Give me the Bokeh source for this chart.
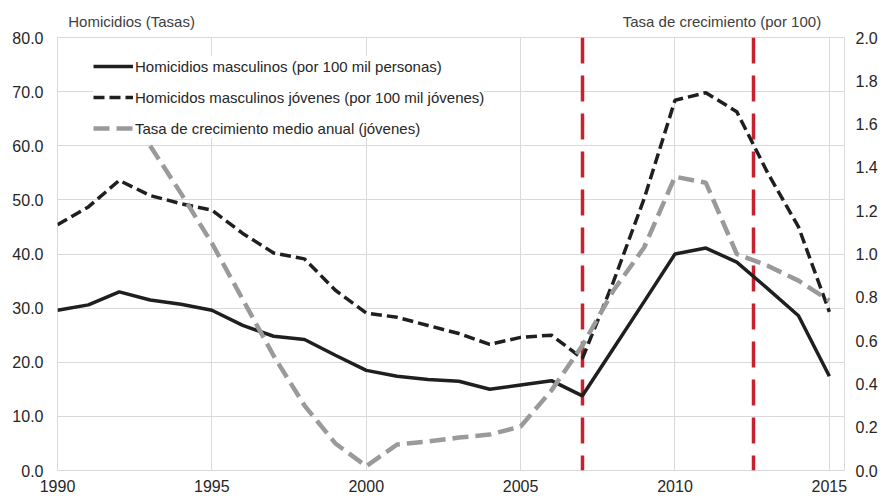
from bokeh.plotting import figure
from bokeh.models import (Range1d, LinearAxis, FixedTicker, Legend, LegendItem,
                          NumeralTickFormatter, ColumnDataSource)
from bokeh.embed import file_html
from bokeh.resources import INLINE

# ---------------- data ----------------
years = list(range(1990, 2016))
hom_masc = [29.6, 30.6, 33.0, 31.5, 30.7, 29.6, 26.8, 24.8, 24.2, 21.3,
            18.5, 17.4, 16.8, 16.5, 15.0, 15.8, 16.6, 13.8, 22.5, 31.2,
            40.0, 41.1, 38.5, 33.6, 28.6, 17.4]
hom_jov = [45.4, 48.7, 53.6, 50.8, 49.3, 48.1, 43.8, 40.2, 39.1, 33.3,
           29.1, 28.3, 26.8, 25.3, 23.3, 24.6, 25.0, 20.7, 34.8, 50.2,
           68.4, 69.8, 66.3, 55.0, 45.0, 29.3]
tasa_years = list(range(1993, 2016))
tasa_jov = [1.50, 1.28, 1.05, 0.79, 0.53, 0.30, 0.125, 0.02,
            0.12, 0.134, 0.152, 0.166, 0.203, 0.37, 0.577, 0.83, 1.03,
            1.357, 1.329, 1.00, 0.946, 0.877, 0.785]

x_ticks = [1990, 1995, 2000, 2005, 2010, 2015]
left_ticks = [0, 10, 20, 30, 40, 50, 60, 70, 80]
right_ticks = [0.0, 0.2, 0.4, 0.6, 0.8, 1.0, 1.2, 1.4, 1.6, 1.8, 2.0]
red_marks = [2007, 2012.55]

series_labels = ["Homicidios masculinos (por 100 mil personas)",
                 "Homicidos masculinos jóvenes (por 100 mil jóvenes)",
                 "Tasa de crecimiento medio anual (jóvenes)"]
left_title = "Homicidios (Tasas)"
right_title = "Tasa de crecimiento (por 100)"

# ---------------- styles / layout ----------------
FONT = "Liberation Sans"
GRID = "#d9d9d9"
BLACK = "#1f1f1f"
GRAY = "#9a9a9a"
RED = "#c8202f"
RED_DASH = "26 12"
TICK_COLOR = "#262626"
TITLE_COLOR = "#404040"
title_centers = [1992.4, 2011.52]   # horizontal centres of the two axis titles

p = figure(width=884, height=499, output_backend="svg", toolbar_location=None,
           x_range=Range1d(1990, 2015.49), y_range=Range1d(0, 80),
           min_border_left=57, min_border_right=40, min_border_top=37,
           min_border_bottom=29, background_fill_color="white",
           border_fill_color="white")
p.extra_y_ranges = {"rate": Range1d(0, 2.0)}
p.outline_line_color = GRID

xt = FixedTicker(ticks=x_ticks)
yt = FixedTicker(ticks=left_ticks)

xa = p.xaxis[0]
xa.ticker = xt
xa.axis_line_color = None
xa.major_tick_in = 0
xa.major_tick_out = 0
xa.minor_tick_line_color = None
xa.major_label_standoff = 9
xa.major_label_text_font = FONT
xa.major_label_text_font_size = "16px"
xa.major_label_text_color = TICK_COLOR

ya = p.yaxis[0]
ya.ticker = yt
ya.formatter = NumeralTickFormatter(format="0.0")
ya.axis_line_color = None
ya.major_tick_in = 0
ya.major_tick_out = 0
ya.minor_tick_line_color = None
ya.major_label_standoff = 14
ya.major_label_text_font = FONT
ya.major_label_text_font_size = "16px"
ya.major_label_text_color = TICK_COLOR

ra = LinearAxis(y_range_name="rate", ticker=FixedTicker(ticks=right_ticks),
                formatter=NumeralTickFormatter(format="0.0"))
ra.axis_line_color = None
ra.major_tick_in = 0
ra.major_tick_out = 0
ra.minor_tick_line_color = None
ra.major_label_standoff = 11
ra.major_label_text_font = FONT
ra.major_label_text_font_size = "16px"
ra.major_label_text_color = TICK_COLOR
p.add_layout(ra, "right")

# axis titles above the plot area (left and right)
ta = LinearAxis(ticker=FixedTicker(ticks=title_centers),
                major_label_overrides={title_centers[0]: left_title,
                                       title_centers[1]: right_title})
ta.axis_line_color = None
ta.major_tick_in = 0
ta.major_tick_out = 0
ta.minor_tick_line_color = None
ta.major_label_standoff = 8
ta.major_label_text_font = FONT
ta.major_label_text_font_size = "15px"
ta.major_label_text_color = TITLE_COLOR
p.add_layout(ta, "above")

# extension of the red markers below the plot area (fixed axis takes no space)
red_axis = LinearAxis(ticker=FixedTicker(ticks=red_marks), fixed_location=0)
red_axis.axis_line_color = None
red_axis.major_tick_in = 0
red_axis.major_tick_out = 34
red_axis.major_tick_line_color = RED
red_axis.major_tick_line_width = 3.5
red_axis.major_tick_line_dash = RED_DASH
red_axis.minor_tick_line_color = None
red_axis.major_label_text_color = None
red_axis.major_label_text_font_size = "1px"
p.add_layout(red_axis, "below")

p.xgrid.ticker = xt
p.ygrid.ticker = yt
p.xgrid.grid_line_color = GRID
p.ygrid.grid_line_color = GRID

# red vertical markers (under the series)
p.vspan(x=red_marks, line_color=RED, line_width=3.5, line_dash=RED_DASH)

src = ColumnDataSource(dict(year=years, masc=hom_masc, jov=hom_jov))
r1 = p.line("year", "masc", source=src, line_color=BLACK, line_width=3.5)
r2 = p.line("year", "jov", source=src, line_color=BLACK, line_width=3.5,
            line_dash="11 5")
r3 = p.line(tasa_years, tasa_jov, y_range_name="rate", line_color=GRAY,
            line_width=4.5, line_dash="16 7")

legend = Legend(items=[LegendItem(label=series_labels[0], renderers=[r1]),
                       LegendItem(label=series_labels[1], renderers=[r2]),
                       LegendItem(label=series_labels[2], renderers=[r3])],
                location=(36, 332), padding=4, spacing=11, margin=0,
                glyph_width=40, glyph_height=20, label_height=20,
                label_standoff=2, border_line_color=None,
                background_fill_color="white", background_fill_alpha=1.0,
                label_text_font=FONT, label_text_font_size="15px",
                label_text_color=TICK_COLOR)
p.add_layout(legend)

open("out.html", "w").write(file_html(p, INLINE, "chart"))
